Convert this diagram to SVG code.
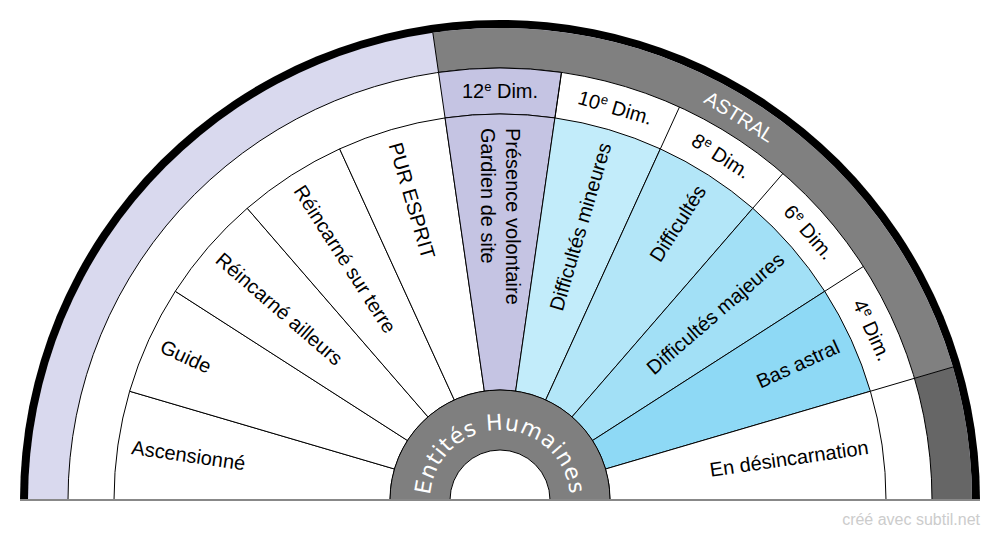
<svg xmlns="http://www.w3.org/2000/svg" width="1000" height="540" viewBox="0 0 1000 540">
<defs>
<style>
.s{stroke:#000;stroke-width:1}
.t{font-family:"Liberation Sans",Arial,sans-serif;font-size:20px;fill:#000}
.w{fill:#fff}
.sup{font-size:13px}
</style>
<path id="hubarc" d="M430,500 A70,70 0 0 1 570,500"/>
</defs>
<rect width="1000" height="540" fill="#fff"/>
<g id="bands">
<path d="M20,500 A480,480 0 0 1 980,500 Z" fill="#000"/>
<path d="M28,500 A472,472 0 0 1 972,500 Z" fill="#d9d9ee"/>
<path d="M500,500 L432.83,32.80 A472,472 0 0 1 952.88,367.02 Z" fill="#808080"/>
<path d="M500,500 L952.88,367.02 A472,472 0 0 1 972,500 Z" fill="#666"/>
<path d="M432.83,32.80 L438.52,72.40 M952.88,367.02 L914.50,378.29" class="s" fill="none"/>
<path d="M68,500 A432,432 0 0 1 932,500 Z" fill="#fff" class="s"/>
<text class="t w" x="500" y="48" text-anchor="middle" dy="0.35em" transform="rotate(32 500 500)">ASTRAL</text>
</g>
<g id="labelring">
<path d="M438.52,72.40 A432,432 0 0 1 561.48,72.40 L554.93,117.93 A386,386 0 0 0 445.07,117.93 Z" fill="#c5c4e3" class="s"/>
<path d="M561.48,72.40 L554.93,117.93 M679.46,107.04 L660.35,148.88 M782.90,173.52 L752.78,208.28 M863.42,266.44 L824.72,291.31 M914.50,378.29 L870.36,391.25" class="s" fill="none"/>
<text class="t" x="500" y="91" text-anchor="middle" dy="0.35em">12<tspan class="sup" dy="-7">e</tspan><tspan dy="7"> Dim.</tspan></text>
<text class="t" x="500" y="91" text-anchor="middle" dy="0.35em" transform="rotate(16.36 500 500)">10<tspan class="sup" dy="-7">e</tspan><tspan dy="7"> Dim.</tspan></text>
<text class="t" x="500" y="91" text-anchor="middle" dy="0.35em" transform="rotate(32.73 500 500)">8<tspan class="sup" dy="-7">e</tspan><tspan dy="7"> Dim.</tspan></text>
<text class="t" x="500" y="91" text-anchor="middle" dy="0.35em" transform="rotate(49.09 500 500)">6<tspan class="sup" dy="-7">e</tspan><tspan dy="7"> Dim.</tspan></text>
<text class="t" x="500" y="91" text-anchor="middle" dy="0.35em" transform="rotate(65.45 500 500)">4<tspan class="sup" dy="-7">e</tspan><tspan dy="7"> Dim.</tspan></text>
</g>
<g id="sectors" class="s">
<path d="M114,500 A386,386 0 0 1 129.64,391.25 L394.46,469.01 A110,110 0 0 0 390,500 Z" fill="#fff"/>
<path d="M129.64,391.25 A386,386 0 0 1 175.28,291.31 L407.46,440.53 A110,110 0 0 0 394.46,469.01 Z" fill="#fff"/>
<path d="M175.28,291.31 A386,386 0 0 1 247.22,208.28 L427.97,416.87 A110,110 0 0 0 407.46,440.53 Z" fill="#fff"/>
<path d="M247.22,208.28 A386,386 0 0 1 339.65,148.88 L454.30,399.94 A110,110 0 0 0 427.97,416.87 Z" fill="#fff"/>
<path d="M339.65,148.88 A386,386 0 0 1 445.07,117.93 L484.35,391.12 A110,110 0 0 0 454.30,399.94 Z" fill="#fff"/>
<path d="M445.07,117.93 A386,386 0 0 1 554.93,117.93 L515.65,391.12 A110,110 0 0 0 484.35,391.12 Z" fill="#c5c4e3"/>
<path d="M554.93,117.93 A386,386 0 0 1 660.35,148.88 L545.70,399.94 A110,110 0 0 0 515.65,391.12 Z" fill="#c2ecfa"/>
<path d="M660.35,148.88 A386,386 0 0 1 752.78,208.28 L572.03,416.87 A110,110 0 0 0 545.70,399.94 Z" fill="#b3e6f8"/>
<path d="M752.78,208.28 A386,386 0 0 1 824.72,291.31 L592.54,440.53 A110,110 0 0 0 572.03,416.87 Z" fill="#a2e0f6"/>
<path d="M824.72,291.31 A386,386 0 0 1 870.36,391.25 L605.54,469.01 A110,110 0 0 0 592.54,440.53 Z" fill="#8ed9f5"/>
<path d="M870.36,391.25 A386,386 0 0 1 886,500 L610,500 A110,110 0 0 0 605.54,469.01 Z" fill="#fff"/>
</g>
<g id="sectorlabels" class="t">
<text x="128" y="500" dy="0.35em" transform="rotate(8.18 500 500)">Ascensionné</text>
<text x="128" y="500" dy="0.35em" transform="rotate(24.55 500 500)">Guide</text>
<text x="128" y="500" dy="0.35em" transform="rotate(40.91 500 500)">Réincarné ailleurs</text>
<text x="128" y="500" dy="0.35em" transform="rotate(57.27 500 500)">Réincarné sur terre</text>
<text x="128" y="500" dy="0.35em" transform="rotate(73.64 500 500)">PUR ESPRIT</text>
<text transform="rotate(90 500 500)"><tspan x="128" y="487" dy="0.35em">Présence volontaire</tspan><tspan x="128" y="512" dy="0.35em">Gardien de site</tspan></text>
<text x="872" y="500" dy="0.35em" text-anchor="end" transform="rotate(-73.64 500 500)">Difficultés mineures</text>
<text x="872" y="500" dy="0.35em" text-anchor="end" transform="rotate(-57.27 500 500)">Difficultés</text>
<text x="872" y="500" dy="0.35em" text-anchor="end" transform="rotate(-40.91 500 500)">Difficultés majeures</text>
<text x="872" y="500" dy="0.35em" text-anchor="end" transform="rotate(-24.55 500 500)">Bas astral</text>
<text x="872" y="500" dy="0.35em" text-anchor="end" transform="rotate(-8.18 500 500)">En désincarnation</text>
</g>
<g id="hub">
<path d="M390,500 A110,110 0 0 1 610,500 Z" fill="#7f7f7f" class="s"/>
<path d="M450,500 A50,50 0 0 1 550,500 Z" fill="#fff" class="s"/>
<text font-family="DejaVu Sans,sans-serif" font-size="22" fill="#fff" letter-spacing="1" text-anchor="middle"><textPath href="#hubarc" startOffset="50%">Entités Humaines</textPath></text>
</g>
<line x1="20" y1="500" x2="980" y2="500" stroke="#888" stroke-width="2"/>
<text x="980" y="525" text-anchor="end" font-family="Liberation Sans,Arial,sans-serif" font-size="16" fill="#ccc">créé avec subtil.net</text>
</svg>
